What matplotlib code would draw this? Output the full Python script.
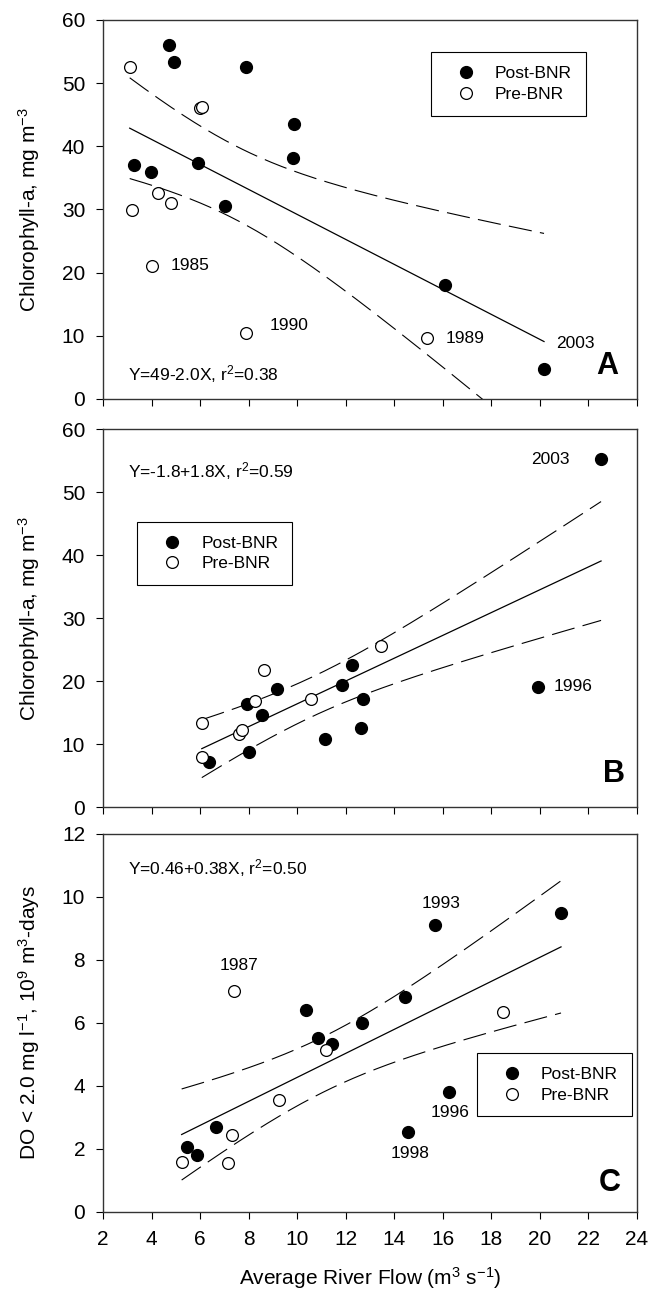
import matplotlib
matplotlib.use('Agg')
import matplotlib.pyplot as plt
import numpy as np

plt.rcParams['font.family'] = ['Liberation Sans', 'DejaVu Sans']
plt.rcParams['mathtext.fontset'] = 'custom'
plt.rcParams['mathtext.rm'] = 'Liberation Sans'
plt.rcParams['mathtext.it'] = 'Liberation Sans:italic'
plt.rcParams['mathtext.default'] = 'regular'

# panel A - chlorophyll-a, negative relation
a_post_x = [4.73, 4.91, 7.88, 9.87, 9.82, 3.26, 3.98, 5.91, 7.01, 16.08, 20.17]
a_post_y = [56.0, 53.4, 52.5, 43.6, 38.1, 37.0, 35.9, 37.3, 30.5, 18.1, 4.7]
a_pre_x = [3.10, 6.00, 6.08, 3.19, 4.25, 4.79, 4.03, 7.91, 15.35]
a_pre_y = [52.5, 46.1, 46.3, 29.9, 32.6, 31.1, 21.0, 10.4, 9.7]

# panel B - chlorophyll-a, positive relation
b_post_x = [6.37, 8.03, 7.92, 8.55, 9.16, 11.16, 12.25, 11.86, 12.73, 12.64, 19.91, 22.52]
b_post_y = [7.1, 8.7, 16.3, 14.6, 18.7, 10.8, 22.5, 19.4, 17.2, 12.6, 19.0, 55.2]
b_pre_x = [6.08, 6.07, 7.62, 7.74, 8.26, 8.62, 10.56, 13.47]
b_pre_y = [13.4, 7.9, 11.6, 12.3, 16.9, 21.7, 17.1, 25.5]

# panel C - hypoxic volume
c_post_x = [5.45, 5.87, 6.66, 10.36, 10.87, 11.45, 12.67, 14.44, 15.69, 20.87, 16.27, 14.58]
c_post_y = [2.07, 1.81, 2.70, 6.42, 5.51, 5.33, 6.01, 6.84, 9.12, 9.49, 3.80, 2.54]
c_pre_x = [5.24, 7.16, 7.32, 7.38, 9.24, 11.18, 18.48]
c_pre_y = [1.58, 1.55, 2.44, 7.03, 3.55, 5.13, 6.34]

equations = ['Y=49-2.0X, r$^2$=0.38', 'Y=-1.8+1.8X, r$^2$=0.59', 'Y=0.46+0.38X, r$^2$=0.50']
x_ticks = list(range(2, 25, 2))

# student t, 95 %, two sided
t95 = {17: 2.110, 18: 2.101}


def fit_band(x, y):
    x = np.array(x)
    y = np.array(y)
    n = len(x)
    slope, icpt = np.polyfit(x, y, 1)
    xs = np.linspace(x.min(), x.max(), 200)
    yfit = icpt + slope * xs
    resid = y - (icpt + slope * x)
    s = np.sqrt(np.sum(resid ** 2) / (n - 2))
    sxx = np.sum((x - x.mean()) ** 2)
    se = s * np.sqrt(1.0 / n + (xs - x.mean()) ** 2 / sxx)
    return xs, yfit, yfit - t95[n - 2] * se, yfit + t95[n - 2] * se


def panel(ax, px, py, qx, qy, ylim, yticks, leg_pos):
    xs, yfit, lo, hi = fit_band(px + qx, py + qy)
    ax.plot(xs, yfit, color='black', lw=0.9, zorder=2)
    for band in (lo, hi):
        ln, = ax.plot(xs, band, color='black', lw=0.8, zorder=2)
        ln.set_dashes((21, 7.5))
    ax.plot(px, py, 'o', color='black', ms=8.5, ls='none', zorder=3, label='Post-BNR')
    ax.plot(qx, qy, 'o', mfc='white', mec='black', mew=0.9, ms=8.5, ls='none',
            zorder=4, label='Pre-BNR')
    ax.set_xlim(2, 24)
    ax.set_ylim(*ylim)
    ax.set_xticks(x_ticks)
    ax.set_yticks(yticks)
    ax.tick_params(direction='out', length=4.8, width=0.8, labelsize=15, pad=8,
                   top=False, right=False)
    for sp in ax.spines.values():
        sp.set_linewidth(1.0)
        sp.set_color('#333333')
    leg = ax.legend(loc='upper left', bbox_to_anchor=leg_pos, fontsize=12.5,
                    frameon=True, fancybox=False, borderpad=0.8, labelspacing=0.3,
                    handlelength=2.4, handletextpad=0.5, borderaxespad=0,
                    numpoints=1, framealpha=1)
    leg.get_frame().set_edgecolor('black')
    leg.get_frame().set_linewidth(0.8)


fig = plt.figure(figsize=(6.59, 12.9), dpi=100)
axA = fig.add_axes([0.1563, 0.6907, 0.8103, 0.2938])
axB = fig.add_axes([0.1563, 0.3744, 0.8103, 0.2930])
axC = fig.add_axes([0.1563, 0.0605, 0.8103, 0.2930])

panel(axA, a_post_x, a_post_y, a_pre_x, a_pre_y, (0, 60), range(0, 61, 10), (0.614, 0.915))
panel(axB, b_post_x, b_post_y, b_pre_x, b_pre_y, (0, 60), range(0, 61, 10), (0.064, 0.755))
panel(axC, c_post_x, c_post_y, c_pre_x, c_pre_y, (0, 12), range(0, 13, 2), (0.700, 0.420))

axA.tick_params(labelbottom=False)
axB.tick_params(labelbottom=False)

fs = 12.5
# panel A text
axA.text(3.04, 4.0, equations[0], fontsize=fs, va='center')
axA.text(4.80, 21.1, '1985', fontsize=fs, va='center')
axA.text(8.88, 11.6, '1990', fontsize=fs, va='center')
axA.text(16.13, 9.6, '1989', fontsize=fs, va='center')
axA.text(20.65, 8.8, '2003', fontsize=fs, va='center')
axA.text(0.965, 0.087, 'A', transform=axA.transAxes, fontsize=22, fontweight='bold',
         ha='right', va='center')

# panel B text
axB.text(3.04, 53.3, equations[1], fontsize=fs, va='center')
axB.text(21.24, 55.2, '2003', fontsize=fs, va='center', ha='right')
axB.text(20.58, 19.1, '1996', fontsize=fs, va='center')
axB.text(0.978, 0.0865, 'B', transform=axB.transAxes, fontsize=22, fontweight='bold',
         ha='right', va='center')

# panel C text
axC.text(3.01, 10.93, equations[2], fontsize=fs, va='center')
axC.text(7.61, 7.81, '1987', fontsize=fs, va='center', ha='center')
axC.text(15.93, 9.78, '1993', fontsize=fs, va='center', ha='center')
axC.text(16.30, 3.15, '1996', fontsize=fs, va='center', ha='center')
axC.text(14.67, 1.84, '1998', fontsize=fs, va='center', ha='center')
axC.text(0.970, 0.076, 'C', transform=axC.transAxes, fontsize=22, fontweight='bold',
         ha='right', va='center')

axA.set_ylabel('Chlorophyll-a, mg m$^{-3}$', fontsize=15)
axB.set_ylabel('Chlorophyll-a, mg m$^{-3}$', fontsize=15)
axC.set_ylabel('DO < 2.0 mg l$^{-1}$, 10$^9$ m$^3$-days', fontsize=15)
for ax in (axA, axB, axC):
    ax.yaxis.set_label_coords(-0.114, 0.5)
axC.set_xlabel('Average River Flow (m$^3$ s$^{-1}$)', fontsize=15, labelpad=12)

fig.savefig('out.png', dpi=100)
